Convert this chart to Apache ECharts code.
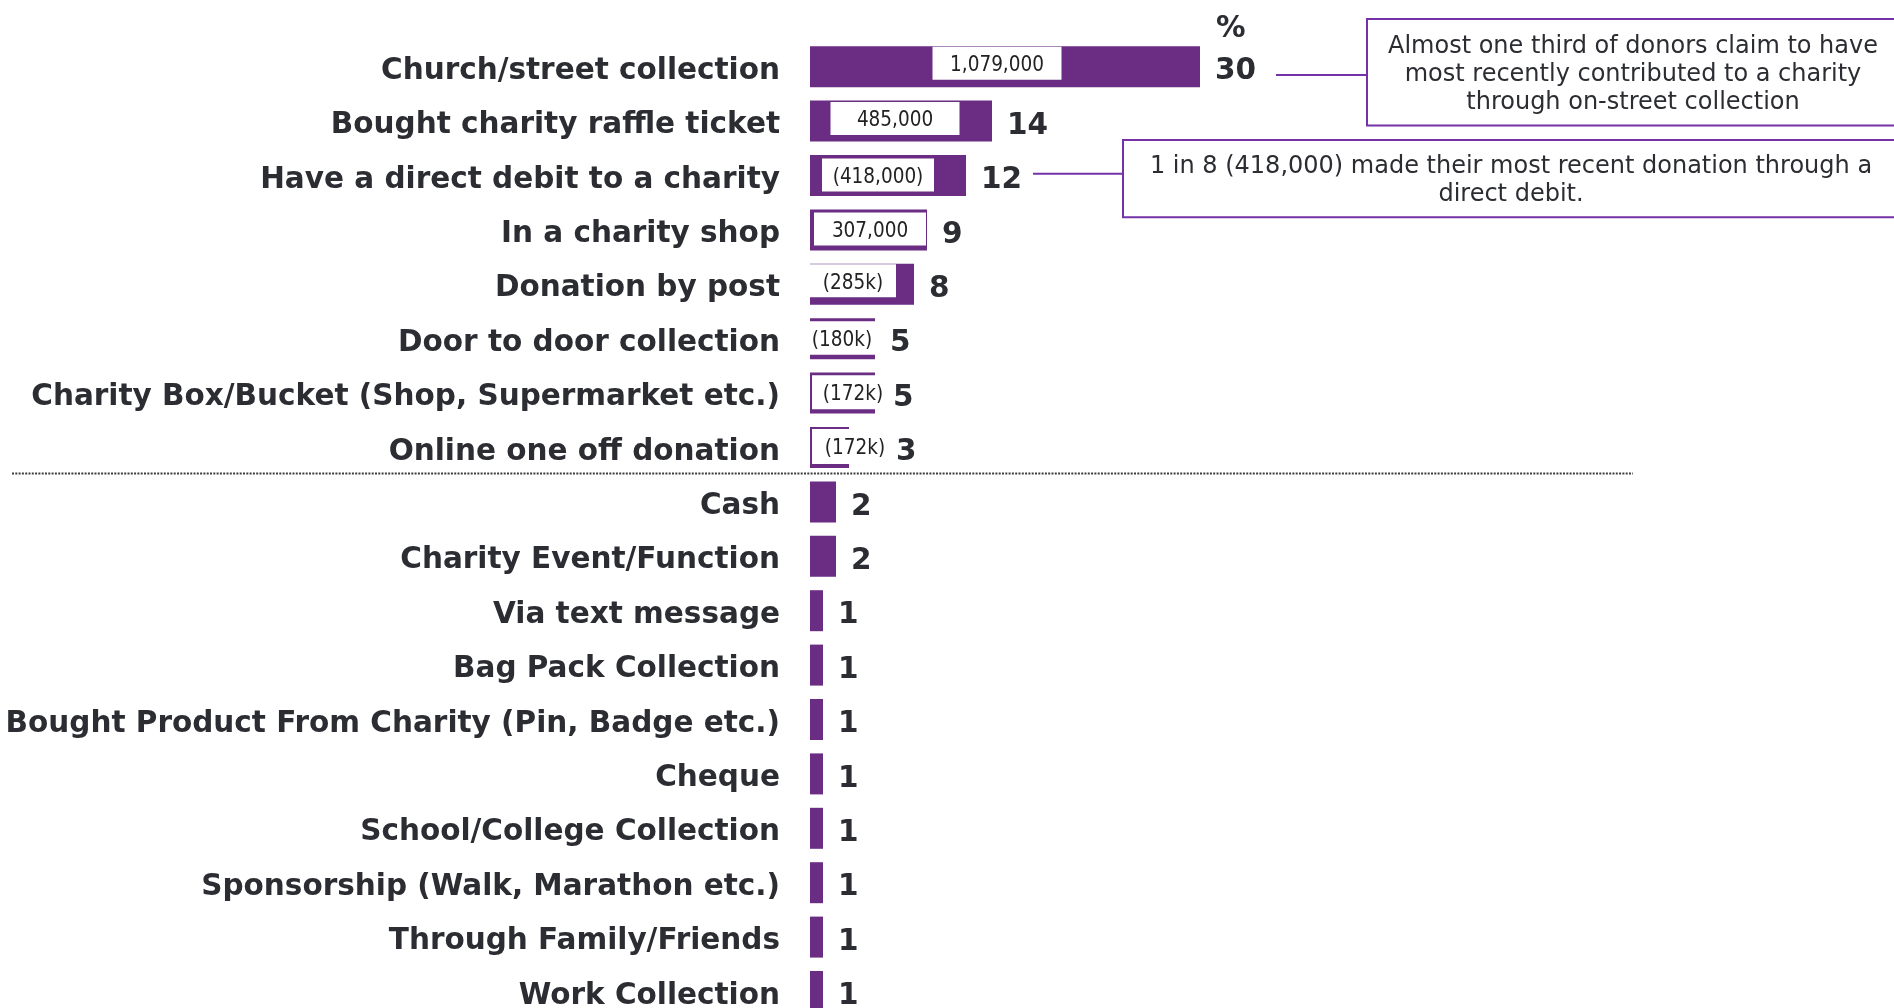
<!DOCTYPE html>
<html>
<head>
<meta charset="utf-8">
<title>Most recent method of donating</title>
<script src="https://cdn.jsdelivr.net/npm/echarts@6/dist/echarts.min.js"></script>
<style>
  html, body { margin: 0; padding: 0; background: #ffffff; }
  #chart { width: 1894px; height: 1008px; }
</style>
</head>
<body>
<div id="chart"></div>
<script>
// Donation methods, top to bottom
const categories = [
  'Church/street collection',
  'Bought charity raffle ticket',
  'Have a direct debit to a charity',
  'In a charity shop',
  'Donation by post',
  'Door to door collection',
  'Charity Box/Bucket (Shop, Supermarket etc.)',
  'Online one off donation',
  'Cash',
  'Charity Event/Function',
  'Via text message',
  'Bag Pack Collection',
  'Bought Product From Charity (Pin, Badge etc.)',
  'Cheque',
  'School/College Collection',
  'Sponsorship (Walk, Marathon etc.)',
  'Through Family/Friends',
  'Work Collection'
];

// Share of donors (%)
const percentages = [30, 14, 12, 9, 8, 5, 5, 3, 2, 2, 1, 1, 1, 1, 1, 1, 1, 1];

// Estimated number of donors, shown inside the leading bars
const donorCounts = ['1,079,000', '485,000', '(418,000)', '307,000', '(285k)', '(180k)', '(172k)', '(172k)'];

// Callout texts
const calloutStreet = 'Almost one third of donors claim to have\nmost recently contributed to a charity\nthrough on-street collection';
const calloutDebit = '1 in 8 (418,000) made their most recent donation through a\ndirect debit.';

// White count tags: centre (relative to the bar's top-left corner) and size
const tagBoxes = [
  { cx: 187, cy: 17, w: 129, h: 33 },
  { cx: 85, cy: 18, w: 129, h: 33 },
  { cx: 68, cy: 20, w: 112, h: 33 },
  { cx: 60, cy: 19.5, w: 112, h: 33 },
  { cx: 43, cy: 17, w: 86, h: 33 },
  { cx: 32, cy: 19.7, w: 66, h: 33.5 },
  { cx: 43, cy: 19.7, w: 82, h: 34 },
  { cx: 45, cy: 19.6, w: 86, h: 35 }
];

// Value-label gap to the right of the bar, where it differs from the default
const valueGap = { 6: 18, 7: 47 };

const PURPLE = '#6b2d83';
const LINE_PURPLE = '#7432a6';
const INK = '#2b2d32';
const BOLD = "'DejaVu Sans', Verdana, sans-serif";
const TAG_FONT = "'DejaVu Sans Condensed', 'Liberation Sans', sans-serif";
const TAG_PAD = 5;
// Top-anchored single line: keeps the glyphs optically centred on the bar
const BOLD_LINE = 9;

const chart = echarts.init(document.getElementById('chart'), null, { renderer: 'canvas' });

const valueData = percentages.map((v, i) => {
  const item = { value: v };
  if (valueGap[i] !== undefined) item.label = { distance: valueGap[i] };
  return item;
});

const tagData = percentages.map((v, i) => {
  if (i >= donorCounts.length) return { value: v, label: { show: false } };
  const b = tagBoxes[i];
  return {
    value: v,
    label: {
      show: true,
      formatter: donorCounts[i],
      position: [b.cx, b.cy - b.h / 2],
      width: b.w,
      lineHeight: b.h - TAG_PAD,
      padding: [TAG_PAD, 0, 0, 0]
    }
  };
});

chart.setOption({
  animation: false,
  backgroundColor: '#ffffff',
  grid: {
    left: 810,
    top: 39.5,
    width: 780,
    height: 979.2,
    containLabel: false,
    outerBoundsMode: 'none'
  },
  xAxis: {
    type: 'value',
    min: 0,
    max: 60,
    show: false
  },
  yAxis: {
    type: 'category',
    data: categories,
    inverse: true,
    axisLine: { show: false },
    axisTick: { show: false },
    splitLine: { show: false },
    axisLabel: {
      margin: 30,
      color: INK,
      fontFamily: BOLD,
      fontWeight: 'bold',
      fontSize: 29.5,
      verticalAlign: 'top',
      lineHeight: BOLD_LINE
    }
  },
  series: [
    {
      name: 'share',
      type: 'bar',
      data: valueData,
      barWidth: 41,
      barGap: '-100%',
      itemStyle: { color: PURPLE },
      label: {
        show: true,
        position: 'right',
        distance: 15,
        color: INK,
        fontFamily: BOLD,
        fontWeight: 'bold',
        fontSize: 29.5,
        verticalAlign: 'top',
        lineHeight: BOLD_LINE + 1
      }
    },
    {
      name: 'donors',
      type: 'bar',
      data: tagData,
      barWidth: 41,
      barGap: '-100%',
      silent: true,
      itemStyle: { color: 'rgba(0,0,0,0)' },
      label: {
        show: true,
        align: 'center',
        verticalAlign: 'top',
        backgroundColor: '#ffffff',
        color: '#222222',
        fontFamily: TAG_FONT,
        fontSize: 20.5
      }
    }
  ]
});

// Decorations placed from the axes: separator, "%" header, callouts
const yOf = (i) => chart.convertToPixel({ yAxisIndex: 0 }, categories[i]);
const xOf = (v) => chart.convertToPixel({ xAxisIndex: 0 }, v);
const sepY = Math.round((yOf(7) + yOf(8)) / 2) - 1.5;
const pctX = xOf(30) + 16;

chart.setOption({
  graphic: [
    {
      type: 'line',
      shape: { x1: 12, y1: sepY, x2: 1633, y2: sepY },
      style: { stroke: '#3c3c3c', lineWidth: 2, lineDash: [2, 1.3] },
      silent: true
    },
    {
      type: 'text',
      x: pctX,
      y: 29.5,
      style: {
        text: '%',
        fill: INK,
        font: "bold 29.5px 'DejaVu Sans', Verdana, sans-serif",
        textAlign: 'left',
        textVerticalAlign: 'middle'
      },
      silent: true
    },
    {
      type: 'line',
      shape: { x1: 1276, y1: 75, x2: 1367, y2: 75 },
      style: { stroke: LINE_PURPLE, lineWidth: 2 },
      silent: true
    },
    {
      type: 'rect',
      shape: { x: 1367, y: 19, width: 533, height: 106.5 },
      style: { fill: '#ffffff', stroke: LINE_PURPLE, lineWidth: 2 },
      silent: true
    },
    {
      type: 'text',
      x: 1633,
      y: 74.5,
      style: {
        text: calloutStreet,
        fill: INK,
        font: "24px 'DejaVu Sans', Verdana, sans-serif",
        lineHeight: 28.2,
        textAlign: 'center',
        textVerticalAlign: 'middle'
      },
      silent: true
    },
    {
      type: 'line',
      shape: { x1: 1033, y1: 173.7, x2: 1123, y2: 173.7 },
      style: { stroke: LINE_PURPLE, lineWidth: 2 },
      silent: true
    },
    {
      type: 'rect',
      shape: { x: 1123, y: 140, width: 777, height: 77.3 },
      style: { fill: '#ffffff', stroke: LINE_PURPLE, lineWidth: 2 },
      silent: true
    },
    {
      type: 'text',
      x: 1511,
      y: 181,
      style: {
        text: calloutDebit,
        fill: INK,
        font: "24px 'DejaVu Sans', Verdana, sans-serif",
        lineHeight: 28.2,
        textAlign: 'center',
        textVerticalAlign: 'middle'
      },
      silent: true
    }
  ]
});
</script>
</body>
</html>
